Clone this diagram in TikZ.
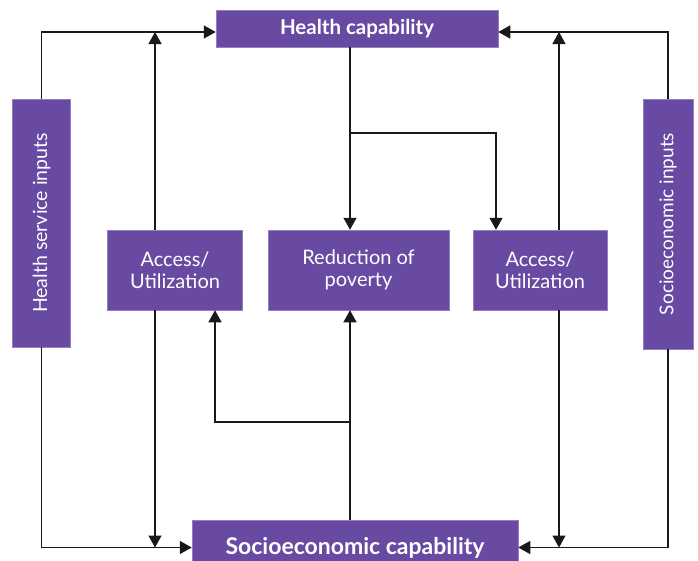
\documentclass[tikz,border=0pt]{standalone}
\usepackage{fontspec}
\setmainfont{Lato}
\usetikzlibrary{arrows.meta,calc}
\definecolor{boxpurple}{RGB}{104,74,163}
\tikzset{
  x=1pt,y=-1pt,
  box/.style={fill=boxpurple,draw=boxpurple!70!white,line width=0.5pt,text=white,inner sep=0pt,align=center,font=\fontsize{20}{22}\selectfont},
  conn/.style={draw=black!90,line width=1.4pt},
  arr/.style={conn,-{Triangle[length=12pt,width=13pt]}},
}
\begin{document}
\begin{tikzpicture}
\useasboundingbox (0,0) rectangle (698,560);
\begin{scope}
\clip (0,0) rectangle (698,560);
\node[box,minimum width=282,minimum height=37,font=\bfseries\fontsize{20.5}{22}\selectfont] (hc) at (357,28.5) {Health capability};
\node[box,minimum width=326,minimum height=55,font=\bfseries\fontsize{23}{26}\selectfont] (sc) at (355,547.5) {Socioeconomic capability};
\end{scope}
\node[box,minimum width=248,minimum height=58,rotate=90,font=\fontsize{19.5}{22}\selectfont] (hsi) at (41.5,223) {Health service inputs};
\node[box,minimum width=250,minimum height=50,rotate=90,font=\fontsize{19}{22}\selectfont] (sei) at (668,224) {Socioeconomic inputs};
\node[box,minimum width=135,minimum height=80] (accL) at (175,270) {Access/\\Utilization};
\node[box,minimum width=181,minimum height=80] (red) at (358.5,270) {Reduction of\\poverty};
\node[box,minimum width=134,minimum height=80] (accR) at (540,270) {Access/\\Utilization};
\coordinate (tl) at (0,32);
\coordinate (bl) at (0,547.5);
\coordinate (xl) at (155,0);
\coordinate (xr) at (559,0);
\coordinate (xm) at (350,0);
\coordinate (xa) at (215,0);
\coordinate (xb) at (496,0);
\coordinate (hy) at (0,133);
\coordinate (ly) at (0,422);
% outer loops
\draw[arr] (hsi.east) |- (hc.west |- tl);
\draw[arr] (hsi.west) |- (sc.west |- bl);
\draw[arr] (sei.east) |- (hc.east |- tl);
\draw[arr] (sei.west) |- (sc.east |- bl);
% access lines
\draw[arr] (accL.north -| xl) -- (xl |- tl);
\draw[arr] (accL.south -| xl) -- (xl |- bl);
\draw[arr] (accR.north -| xr) -- (xr |- tl);
\draw[arr] (accR.south -| xr) -- (xr |- bl);
% from health capability
\draw[arr] (hc.south -| xm) -- (red.north -| xm);
\draw[arr] (xm |- hy) -| (accR.north -| xb);
% from socioeconomic capability
\draw[arr] (sc.north -| xm) -- (red.south -| xm);
\draw[arr] (xm |- ly) -| (accL.south -| xa);
\end{tikzpicture}
\end{document}
